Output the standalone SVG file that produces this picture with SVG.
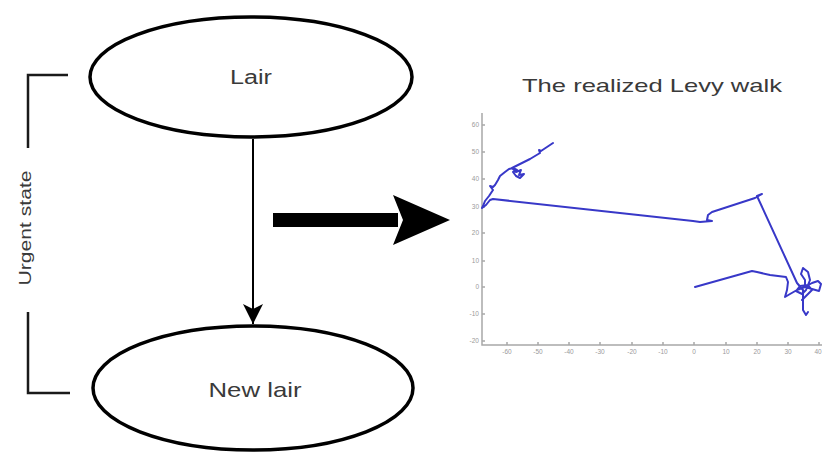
<svg xmlns="http://www.w3.org/2000/svg" width="822" height="456" viewBox="0 0 822 456">
<style>
.node{fill:#fff;stroke:#000;stroke-width:3.5}
.lbl{font-family:"Liberation Sans",Arial,sans-serif;fill:#3a3a3a}
.tick{font-family:"Liberation Sans",Arial,sans-serif;font-size:6.5px;fill:#9a9a9a}
.ax{stroke:#a8a8a8;stroke-width:1.5;fill:none}
.walk{stroke:#3838c8;stroke-width:2;fill:none;stroke-linejoin:round;stroke-linecap:round}
.br{stroke:#1a1a1a;stroke-width:2.5;fill:none}
</style>
<defs>
<marker id="ah" markerWidth="22" markerHeight="22" refX="20" refY="10" orient="auto" markerUnits="userSpaceOnUse">
<path d="M0,0 L20,10 L0,20 L5,10 Z" fill="#000"/>
</marker>
</defs>
<rect width="822" height="456" fill="#fff"/>
<g id="lair">
<ellipse class="node" cx="251" cy="77" rx="161" ry="60"/>
<text class="lbl" x="251" y="84" font-size="20" text-anchor="middle" textLength="42" lengthAdjust="spacingAndGlyphs">Lair</text>
</g>
<g id="new-lair">
<ellipse class="node" cx="253" cy="388" rx="160" ry="62"/>
<text class="lbl" x="255" y="397" font-size="21" text-anchor="middle" textLength="93" lengthAdjust="spacingAndGlyphs">New lair</text>
</g>
<g id="urgent-state">
<path class="br" d="M68,75 H28 V148"/>
<path class="br" d="M28,312 V393 H70"/>
<text class="lbl" font-size="16" text-anchor="middle" transform="translate(31,228) rotate(-90)" textLength="115" lengthAdjust="spacingAndGlyphs">Urgent state</text>
</g>
<g id="connectors">
<line x1="253" y1="139" x2="253" y2="324" stroke="#000" stroke-width="2" marker-end="url(#ah)"/>
<g id="big-arrow">
<rect x="273" y="213" width="125" height="14" fill="#000"/>
<path d="M393,195 L450,220 L393,245 L403,220 Z" fill="#000"/>
</g>
</g>
<g id="plot">
<text class="lbl" x="652" y="92" font-size="19" text-anchor="middle" textLength="260" lengthAdjust="spacingAndGlyphs">The realized Levy walk</text>
<path class="ax" d="M482,113 V345 H822"/>
<path class="ax" stroke-width="1" d="M482,125h3M482,152h3M482,179h3M482,207h3M482,233h3M482,261h3M482,287h3M482,314h3M482,341h3M507,345v-3M538,345v-3M569,345v-3M600,345v-3M632,345v-3M663,345v-3M694,345v-3M726,345v-3M757,345v-3M788,345v-3M819,345v-3"/>
<g class="tick" text-anchor="end">
<text x="479" y="127">60</text><text x="479" y="154">50</text><text x="479" y="181">40</text><text x="479" y="209">30</text><text x="479" y="235">20</text><text x="479" y="263">10</text><text x="479" y="289">0</text><text x="479" y="316">-10</text><text x="479" y="343">-20</text>
</g>
<g class="tick" text-anchor="middle">
<text x="507" y="354">-60</text><text x="538" y="354">-50</text><text x="569" y="354">-40</text><text x="600" y="354">-30</text><text x="632" y="354">-20</text><text x="663" y="354">-10</text><text x="694" y="354">0</text><text x="726" y="354">10</text><text x="757" y="354">20</text><text x="788" y="354">30</text><text x="818" y="354">40</text>
</g>
<path class="walk" d="M553,143 L547,147 L541,151 L539,150 L540,153 L530,159 L520,164 L512,168 L516,172 L521,170 L519,175 L524,174 L520,178 L516,176 L513,172 L517,170 L513,168 L509,169 L505,172 L500,176 L498,180 L495,185 L493,187 L490,186 L493,190 L489,196 L485,201 L483,206 L482,208 L486,205 L490,200 L493,199 L693,221 L700,222 L712,221 L707,220 L708,215 L712,212 L755,198 L762,194 L757,196 L797,283 L803,290 L803,310 L806,315 L808,312"/>
<path class="walk" d="M695,287 L752,271 L757,272 L770,275 L786,277 L788,282 L787,290 L785,297 L790,294 L797,290 L805,287 L812,283 L818,281 L821,284 L819,291 L812,289 L805,287 L805,280 L801,274 L803,268 L808,272 L810,280 L806,290 L802,294 L796,291 L800,286 L808,285 L812,290 L806,296 L802,300"/>
</g>
</svg>
